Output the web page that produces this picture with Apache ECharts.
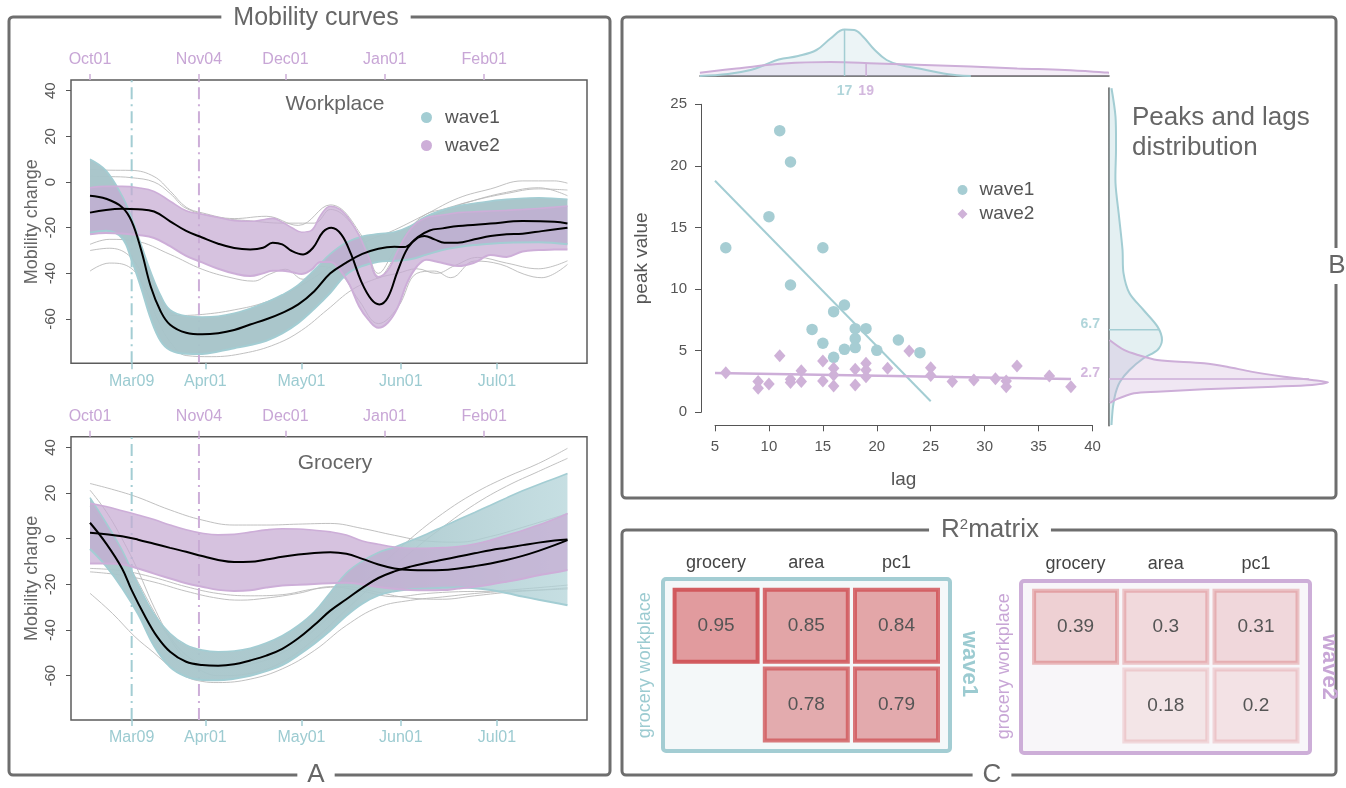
<!DOCTYPE html>
<html>
<head>
<meta charset="utf-8">
<script src="https://cdn.jsdelivr.net/npm/echarts@6/dist/echarts.min.js"></script>
<style>
  html, body { margin: 0; padding: 0; background: #fff; }
  #chart { width: 1346px; height: 788px; }
</style>
</head>
<body>
<div id="chart"></div>
<script>
// ---------------- data ----------------
// Days since the start of each wave (wave1 starts 2020-02-25, wave2 starts 2020-10-01)
const wave1TickDays = [13, 36, 66, 97, 127];
const wave1TickLabels = ['Mar09', 'Apr01', 'May01', 'Jun01', 'Jul01'];
const wave2TickDays = [0, 34, 61, 92, 123];
const wave2TickLabels = ['Oct01', 'Nov04', 'Dec01', 'Jan01', 'Feb01'];
const yTicks = [-60, -40, -20, 0, 20, 40];
const lockdownDayWave1 = 13;   // Mar09
const lockdownDayWave2 = 34;   // Nov04

// Workplace: envelopes of the wave curves and their means
const wpW1Days = [0,5,10,13,16,19,22,25,30,35,40,45,50,55,60,65,70,75,80,85,90,95,100,105,110,115,120,130,140,149];
const wpW1Upper = [10,5,-6,-15.8,-27.6,-39.5,-49.5,-56,-58.7,-59.1,-58.8,-57.5,-55.4,-52.7,-49.4,-45,-38.5,-31.5,-26.5,-23.8,-22.7,-21.9,-19.2,-15,-12.3,-10.4,-9.3,-7.6,-6.9,-7.6];
const wpW1Lower = [-22.2,-21.3,-24.5,-34.2,-46.5,-60,-69.5,-73.6,-75.2,-75.3,-74.2,-72.8,-71.4,-69.5,-66.3,-61.7,-55.5,-48.5,-40.5,-36.8,-34.9,-34.5,-33.8,-31.8,-29.8,-28.5,-27.6,-26.6,-26.4,-27.3];
const wpW1Mean = [[0,-6],[5,-7.3],[10,-11],[13,-17.2],[16,-30],[19,-46],[22,-56.5],[25,-62.5],[30,-66],[35,-66.7],[40,-66.2],[45,-64.8],[50,-62.4],[55,-60.1],[60,-57.3],[65,-53.6],[70,-47.8],[75,-40],[80,-35.3],[85,-31.5],[90,-29.2],[95,-28.3],[98,-28.5],[102,-24.4],[106,-21.2],[110,-20.3],[115,-19.3],[125,-18.2],[135,-17.1],[145,-17.4],[149,-18.2]];
const wpW2Days = [0,5,10,15,20,25,30,35,40,45,50,54,57,60,63,66,69,72,75,78,81,84,87,90,93,96,99,102,105,108,111,115,120,125,130,135,140,145,149];
const wpW2Upper = [-2.5,-1.9,-1.9,-2.5,-4.1,-8.4,-12.6,-14.1,-15.5,-16.9,-17.2,-16.5,-15.9,-17.6,-20,-22,-21.3,-14.5,-10.6,-12,-16.5,-23.5,-33,-41.5,-38.5,-30.2,-22.5,-17.8,-15.6,-14.8,-14.2,-13.4,-13,-12.7,-12.4,-12,-11.6,-11,-10.5];
const wpW2Lower = [-22.9,-22.3,-22.5,-23.2,-24.5,-28.1,-32.3,-35.2,-38,-40.1,-41.2,-40,-38.9,-38.9,-39.5,-40.3,-38.5,-35,-35,-38.5,-45,-54.5,-60.5,-63.8,-61.5,-55,-44,-37,-34,-34.8,-35.8,-36.8,-35.3,-32,-32.8,-30.4,-29.8,-29.6,-29.5];
const wpW2Mean = [[0,-13.4],[5,-12.2],[10,-11.7],[15,-11.9],[20,-12.9],[25,-17.2],[30,-21.4],[35,-24.3],[40,-27],[45,-28.9],[50,-29.5],[54,-28.8],[57,-26.6],[60,-27.3],[63,-30.2],[66.5,-31.7],[69.6,-28.8],[72.7,-21.9],[75.3,-20],[78.4,-22.9],[81.5,-31.7],[84.6,-43.4],[87.8,-51.4],[90.3,-53.6],[92.9,-50.7],[96,-39],[99.2,-28.8],[102.3,-24.4],[104.4,-23.6],[107.5,-25.1],[110.6,-26.6],[114.7,-26.6],[120,-25.1],[125,-23.6],[130,-22.9],[135,-22.6],[141,-21.5],[149,-20]];
// Workplace: individual regions outside the main envelopes
const wpGray1 = [[0,5.5],[6,5.2],[13,5.1],[20,2.4],[25,-3.9],[30,-11],[35,-13.5],[45,-16],[55,-15],[65,-19],[75,-10],[85,-24],[90,-40],[95,-30],[100,-20],[105,-14],[110,-12],[120,-8],[130,-5],[140,-3],[149,-3.5]];
const wpGray2 = [[0,2.6],[6,2.4],[13,1.9],[20,0],[25,-5],[30,-11.5],[40,-15.5],[50,-17],[60,-18],[70,-18],[75,-12],[85,-25],[90,-42],[95,-33],[100,-22],[110,-13],[120,-8],[130,-4.5],[140,-2.5],[149,-6]];
const wpGray3 = [[0,-27.3],[6,-25.1],[14,-25.8],[25,-31.7],[35,-38.2],[44,-41.9],[51,-43.4],[56,-40.4],[61,-38.2],[66.5,-42.6],[72,-37],[78,-40],[84,-52],[90,-62],[96,-55],[102,-40],[107.5,-39],[112.6,-41.9],[120,-34.6],[128,-36],[135.5,-40.4],[141,-41.9],[149,-36.1]];
const wpGray4 = [[0,-39],[6,-35.5],[12,-37],[17,-46],[21,-60],[25,-70],[30,-76],[38,-76.5],[48,-75],[58,-71],[66,-65],[74,-56],[82,-47],[90,-42],[96,-40],[102,-38],[108,-40],[114,-36.5],[121,-33],[130,-35.5],[140,-38],[149,-34.5]];
const wpGray5 = [[0,-30],[6,-29],[12,-32],[17,-42],[21,-53],[26,-58.5],[35,-58],[45,-56],[55,-52.5],[65,-46],[75,-37],[85,-27],[95,-21],[105,-14],[115,-7],[125,-3],[135,0.5],[145,0.5],[149,-0.5]];

// Grocery
const grDays = [0,5,10,15,20,25,30,35,40,45,50,55,60,65,70,75,80,85,90,95,100,105,110,115,120,125,130,135,140,145,149];
const grW1Upper = [18,7,-5,-20,-33,-41.5,-46.5,-48.8,-49.5,-49.2,-48,-45.7,-42.5,-38,-32,-23.5,-15,-9.8,-6,-3.7,-0.9,2,5.2,8.4,11.5,14.7,17.9,21,23.8,26.4,28.6];
const grW1Lower = [-4.5,-12,-21.5,-33,-47,-56.2,-60.4,-61.9,-62,-61.3,-60,-58,-55.4,-51,-46,-40.2,-33.7,-28.4,-24.8,-23,-22.1,-21.8,-21.5,-21.3,-21.7,-22.5,-23.8,-25.3,-26.7,-28,-29.1];
const grW1Mean = [[0,7],[5,-2],[10,-13],[13,-22.5],[17,-33.5],[21,-43],[25,-49.5],[30,-53.9],[35,-55.3],[40,-55.6],[45,-55],[50,-53.3],[55,-51.2],[60,-48.2],[65,-43.6],[70,-37.8],[75,-31.5],[80,-26.5],[85,-21.5],[90,-17.2],[95,-14.3],[100,-12.2],[105,-10.6],[110,-9.2],[115,-7.8],[120,-6.4],[125,-5],[130,-3.9],[135,-2.8],[140,-1.7],[145,-0.8],[149,-0.3]];
const grW2Upper = [15.5,14.1,12.3,10.4,8.4,6,3.9,2.4,1.7,1.9,2.9,3.9,4.4,4.3,3.7,3,1.6,-1,-2.4,-3.6,-4.2,-4.2,-3.9,-3.4,-2.3,-0.6,1.5,3.6,6,8.6,11.1];
const grW2Lower = [-10.8,-10.8,-11.2,-13,-15.3,-17.4,-19.5,-21,-22.4,-22.9,-22.6,-21.4,-20.5,-20.2,-19.8,-19.5,-19.3,-20,-21.1,-21.9,-22.4,-22.6,-22.5,-21.8,-21,-20,-18.8,-17.5,-16,-14.8,-13.7];
const grW2Mean = [[0,2.6],[5,2],[10,1.1],[15,-0.4],[20,-2.2],[25,-4],[30,-5.7],[35,-7.6],[40,-9.3],[45,-10.2],[50,-10.1],[55,-9.1],[60,-7.9],[65,-6.9],[70,-6.2],[75,-5.9],[80,-6.6],[85,-8.8],[90,-11.3],[95,-13],[100,-13.7],[105,-13.8],[110,-13.7],[115,-13],[120,-12],[125,-10.8],[130,-9.3],[135,-7.5],[140,-5.3],[145,-2.8],[149,-0.6]];
const grGray1 = [[0,24.2],[13,19.1],[25,12.6],[35,8.2],[45,6],[55,6],[65,6.4],[75,6.7],[85,4.5],[95,1.5],[105,-1],[115,-1.5],[125,1],[135,5],[149,11]];
const grGray2 = [[0,21.3],[5,12],[10,0],[15,-14],[20,-30],[25,-43],[30,-51],[35,-55],[40,-56.5],[50,-55],[60,-50],[70,-40],[80,-27],[90,-13],[100,0],[110,11],[120,20],[130,27],[140,33],[149,39.6]];
const grGray3 = [[0,14],[5,5],[10,-6],[15,-19],[20,-32],[25,-44],[30,-53],[35,-58],[40,-60],[50,-59],[60,-54],[70,-44],[80,-31],[90,-18],[100,-6],[110,5],[120,15],[130,23],[140,29.5],[149,35.2]];
const grGray4 = [[0,-14.5],[10,-16],[20,-19],[30,-23],[40,-26.1],[47,-26.9],[55,-26],[65,-23.9],[75,-21],[85,-23],[95,-25.4],[105,-24],[115,-23.2],[125,-23],[135,-22],[149,-20.3]];
const grGray5 = [[0,-23.9],[7,-32.7],[14,-42.9],[20,-50],[25,-56],[30,-60.5],[35,-62.5],[40,-63],[50,-61.5],[60,-57],[70,-49],[80,-38],[90,-30],[100,-27],[110,-25.5],[120,-24],[130,-23],[140,-22.5],[149,-22]];
const grGray6 = [[0,-13],[10,-14],[20,-17],[30,-21],[40,-24],[50,-25],[60,-24.5],[70,-22],[80,-21],[90,-23.5],[100,-26],[110,-26.5],[120,-25],[130,-23.5],[140,-22.5],[149,-21.5]];

// Peaks and lags
const lagsW1  = [6, 11, 12, 10, 15, 12, 17, 16, 14, 18, 19, 18, 15, 18, 17, 20, 22, 24, 16];
const peaksW1 = [13.36, 22.86, 20.32, 15.88, 13.36, 10.33, 8.71, 8.17, 6.73, 6.79, 6.79, 5.98, 5.6, 5.25, 5.11, 5.03, 5.87, 4.84, 4.46];
const lagsW2  = [6, 11, 9, 9, 10, 12, 12, 13, 13, 15, 15, 16, 16, 16, 18, 18, 19, 19, 19, 21, 23, 25, 25, 27, 29, 31, 32, 32, 33, 36, 38];
const peaksW2 = [3.22, 4.6, 2.49, 1.95, 2.3, 2.68, 2.41, 3.38, 2.49, 4.16, 2.54, 3.57, 3.03, 2.14, 3.49, 2.22, 3.98, 3.43, 2.89, 3.57, 4.98, 3.62, 2.99, 2.49, 2.62, 2.73, 2.54, 2.08, 3.76, 2.95, 2.08];
const fitLagW1 = [5, 25];
const fitPeakW1 = [18.8, 0.9];
const fitLagW2 = [5, 38];
const fitPeakW2 = [3.2, 2.7];

// Marginal densities
const lagDensX_W1 = [3.6, 6.2, 8.3, 9.6, 10.9, 12.7, 14.4, 15.7, 17, 17.9, 18.7, 19.8, 20.9, 22.2, 23.9, 25.7, 27.4, 28.7];
const lagDens_W1  = [0, 0.004, 0.012, 0.022, 0.033, 0.04, 0.052, 0.075, 0.093, 0.092, 0.079, 0.052, 0.032, 0.022, 0.015, 0.007, 0.0015, 0];
const lagDensX_W2 = [3.6, 7, 11.4, 15.7, 20, 24.4, 28.7, 33, 37.4, 41.5];
const lagDens_W2  = [0.0066, 0.015, 0.025, 0.028, 0.025, 0.022, 0.019, 0.015, 0.012, 0.0066];
const peakDensY_W1 = [26.3, 24, 21.3, 18.6, 15.9, 13.2, 11.3, 9.66, 8.3, 6.95, 5.87, 5.06, 4.38, 3.43, 2.48, 1.54, 0.45, -1.03];
const peakDens_W1  = [0.005, 0.013, 0.014, 0.013, 0.02, 0.027, 0.029, 0.041, 0.069, 0.097, 0.106, 0.097, 0.069, 0.041, 0.022, 0.013, 0.008, 0.005];
const peakDensY_W2 = [5.87, 5.06, 4.65, 4.25, 3.98, 3.7, 3.3, 2.89, 2.62, 2.43, 2.22, 2.08, 1.87, 1.67, 1.54, 1.0, 0.75];
const peakDens_W2  = [0.001, 0.03, 0.058, 0.096, 0.19, 0.236, 0.284, 0.35, 0.406, 0.438, 0.406, 0.332, 0.19, 0.096, 0.05, 0.012, 0.002];
const medianLag = [17, 19];
const medianLagDens = [0.093, 0.026];
const medianPeak = [6.7, 2.7];
const medianPeakDens = [0.101, 0.40];

// R^2 matrices
const r2Cols = ['grocery', 'area', 'pc1'];
const r2Rows = ['workplace', 'grocery'];
const r2Wave1 = [['grocery','workplace',0.95], ['area','workplace',0.85], ['pc1','workplace',0.84], ['area','grocery',0.78], ['pc1','grocery',0.79]];
const r2Wave2 = [['grocery','workplace',0.39], ['area','workplace',0.3], ['pc1','workplace',0.31], ['area','grocery',0.18], ['pc1','grocery',0.2]];

// ---------------- styling ----------------
const FONT = "'Liberation Sans', Arial, Helvetica, sans-serif";
const TEAL = '#a3cdd3';
const TEAL_TXT = '#9ccbd1';
const PURPLE = '#cdaed8';
const PURPLE_TXT = '#c8a6d6';
const GREY_TXT = '#666';
const AXIS = '#555';
const PURPLE_BAND = 'rgba(198,170,210,0.72)';

// elapsed days are placed on a hidden time axis (so that the envelope stacks work on y)
const DAY_MS = 864e5;
const elapsed = d => d * DAY_MS;
const X_MIN_DAY = -5.93, X_MAX_DAY = 155.1;
const Y_MIN = -79.4, Y_MAX = 44.7;

function dayAxis(gridIndex, position, days, labels, color, txtColor, margin) {
  return {
    type: 'value', gridIndex, position, min: X_MIN_DAY, max: X_MAX_DAY,
    axisLine: { show: false, onZero: false },
    splitLine: { show: false },
    axisTick: { show: true, customValues: days, length: 6, lineStyle: { color, width: 1.5 } },
    axisLabel: { customValues: days, formatter: v => labels[days.indexOf(v)] || '', color: txtColor, fontSize: 16, margin }
  };
}

function plotXAxes(gridIndex) {
  return [
    { type: 'time', gridIndex, show: false, min: elapsed(X_MIN_DAY), max: elapsed(X_MAX_DAY),
      axisLine: { show: false, onZero: false }, splitLine: { show: false } },
    dayAxis(gridIndex, 'bottom', wave1TickDays, wave1TickLabels, TEAL, TEAL_TXT, 10),
    dayAxis(gridIndex, 'top', wave2TickDays, wave2TickLabels, PURPLE, PURPLE_TXT, 12)
  ];
}

function mobilityYAxis(gridIndex) {
  return {
    type: 'value', gridIndex, min: Y_MIN, max: Y_MAX,
    axisLine: { show: false, onZero: false },
    splitLine: { show: false },
    axisTick: { show: true, customValues: yTicks, length: 5, lineStyle: { color: AXIS } },
    axisLabel: { customValues: yTicks, rotate: 90, margin: 13, fontSize: 15, color: AXIS },
    name: 'Mobility change', nameLocation: 'middle', nameGap: 30, nameRotate: 90, nameMoveOverlap: false,
    nameTextStyle: { fontSize: 18, color: GREY_TXT }
  };
}

function curveSeries(cfg) {
  const xi = cfg.xi, yi = cfg.yi;
  const out = [];
  cfg.grays.forEach((g, k) => out.push({
    type: 'line', name: cfg.key + 'g' + k, xAxisIndex: xi, yAxisIndex: yi, silent: true,
    data: g.map(p => [elapsed(p[0]), p[1]]), smooth: 0.4, symbol: 'none',
    lineStyle: { color: '#b9b9b9', width: 0.9 }, z: 1
  }));
  [[lockdownDayWave1, TEAL], [lockdownDayWave2, PURPLE]].forEach(([d, c], k) => out.push({
    type: 'line', name: cfg.key + 'v' + k, xAxisIndex: xi, yAxisIndex: yi, silent: true, symbol: 'none',
    data: [[elapsed(d), Y_MIN], [elapsed(d), Y_MAX]],
    lineStyle: { color: c, width: 2, type: [12, 5, 2, 5] }, z: 1
  }));
  const band = (name, days, upper, lower, edge, fill) => {
    const stack = cfg.key + name;
    out.push({
      type: 'line', name: stack + 'low', xAxisIndex: xi, yAxisIndex: yi, silent: true,
      stack, stackStrategy: 'all', smooth: 0.4, symbol: 'none',
      data: days.map((d, i) => [elapsed(d), lower[i]]),
      lineStyle: { color: edge, width: 2 }, z: 2
    });
    out.push({
      type: 'line', name, xAxisIndex: xi, yAxisIndex: yi, silent: true,
      stack, stackStrategy: 'all', smooth: 0.4, symbol: 'none',
      data: days.map((d, i) => [elapsed(d), upper[i] - lower[i]]),
      itemStyle: { color: edge },
      lineStyle: { color: edge, width: 1.6 },
      areaStyle: { color: fill, opacity: 1 }, z: 2
    });
  };
  band('wave1', cfg.w1Days, cfg.w1Upper, cfg.w1Lower, TEAL, cfg.tealFill);
  band('wave2', cfg.w2Days, cfg.w2Upper, cfg.w2Lower, PURPLE, cfg.purpleFill);
  [cfg.w1Mean, cfg.w2Mean].forEach((m, k) => out.push({
    type: 'line', name: cfg.key + 'm' + k, xAxisIndex: xi, yAxisIndex: yi, silent: true,
    data: m.map(p => [elapsed(p[0]), p[1]]), smooth: 0.4, symbol: 'none',
    lineStyle: { color: '#000', width: 2 }, z: 3
  }));
  return out;
}

// density along the vertical axis: filled shape against the x = 0 baseline
function verticalDensity(values, density, stroke, fill) {
  const pts = values.map((v, i) => [density[i], v]);
  return {
    type: 'custom', xAxisIndex: 8, yAxisIndex: 4, silent: true, data: pts,
    renderItem: (params, api) => {
      if (params.dataIndex !== 0) return null;
      const curve = pts.map(p => api.coord(p));
      const shape = [api.coord([0, pts[0][1]])].concat(curve, [api.coord([0, pts[pts.length - 1][1]])]);
      return {
        type: 'group', children: [
          { type: 'polygon', shape: { points: shape, smooth: 0.3 }, style: { fill, stroke: null } },
          { type: 'polyline', shape: { points: curve, smooth: 0.3 }, style: { fill: null, stroke, lineWidth: 2 } }
        ]
      };
    }
  };
}

function r2Cell(params, api) {
  const c = api.coord([api.value(0), api.value(1)]);
  const s = api.size([1, 1]);
  const v = api.value(2);
  const w = s[0] - 3.2, h = s[1] - 2.7, lw = 4;
  return {
    type: 'group', children: [
      { type: 'rect', shape: { x: c[0] - w / 2 + lw / 2, y: c[1] - h / 2 + lw / 2, width: w - lw, height: h - lw },
        style: { fill: 'rgba(210,90,94,' + (0.62 * v) + ')', stroke: 'rgba(208,84,88,' + v + ')', lineWidth: lw } },
      { type: 'text', x: c[0], y: c[1],
        style: { text: String(v), fill: '#555', fontSize: 19, fontFamily: FONT, align: 'center', verticalAlign: 'middle' } }
    ]
  };
}

function panelText(text, x, y, size, pad) {
  return {
    type: 'text', x, y, z: 50, silent: true,
    style: { text, fontSize: size, fontFamily: FONT, fill: GREY_TXT, align: 'center', verticalAlign: 'middle',
             backgroundColor: '#fff', padding: pad }
  };
}
function plainText(text, x, y, size, color, align, extra) {
  return Object.assign({
    type: 'text', x, y, z: 50, silent: true,
    style: { text, fontSize: size, fontFamily: FONT, fill: color, align, verticalAlign: 'middle' }
  }, extra || {});
}

// ---------------- chart ----------------
const chart = echarts.init(document.getElementById('chart'), null, { renderer: 'canvas', width: 1346, height: 788 });

// grocery wave1 curves fan out after the trough, so the envelope fades towards the right
const groceryTealFill = new echarts.graphic.LinearGradient(0, 0, 1, 0, [
  { offset: 0, color: 'rgba(168,198,203,0.95)' },
  { offset: 0.55, color: 'rgba(168,198,203,0.95)' },
  { offset: 1, color: 'rgba(176,210,215,0.72)' }
]);

const series = [].concat(
  curveSeries({ key: 'wp', xi: 0, yi: 0, grays: [wpGray1, wpGray2, wpGray3, wpGray4, wpGray5],
    w1Days: wpW1Days, w1Upper: wpW1Upper, w1Lower: wpW1Lower, w1Mean: wpW1Mean,
    w2Days: wpW2Days, w2Upper: wpW2Upper, w2Lower: wpW2Lower, w2Mean: wpW2Mean,
    tealFill: 'rgba(167,196,201,0.96)', purpleFill: PURPLE_BAND }),
  curveSeries({ key: 'gr', xi: 3, yi: 1, grays: [grGray1, grGray2, grGray3, grGray4, grGray5, grGray6],
    w1Days: grDays, w1Upper: grW1Upper, w1Lower: grW1Lower, w1Mean: grW1Mean,
    w2Days: grDays, w2Upper: grW2Upper, w2Lower: grW2Lower, w2Mean: grW2Mean,
    tealFill: groceryTealFill, purpleFill: PURPLE_BAND }),
  [
    // scatter panel
    { type: 'line', name: 'fit1', xAxisIndex: 6, yAxisIndex: 2, silent: true, symbol: 'none',
      data: fitLagW1.map((l, i) => [l, fitPeakW1[i]]), lineStyle: { color: TEAL, width: 2 }, z: 3 },
    { type: 'line', name: 'fit2', xAxisIndex: 6, yAxisIndex: 2, silent: true, symbol: 'none',
      data: fitLagW2.map((l, i) => [l, fitPeakW2[i]]), lineStyle: { color: PURPLE, width: 2.5 }, z: 3 },
    { type: 'scatter', name: 'wave1', xAxisIndex: 6, yAxisIndex: 2, silent: true, symbol: 'circle', symbolSize: 11.5,
      data: lagsW1.map((l, i) => [l, peaksW1[i]]), itemStyle: { color: '#a6cdd3', opacity: 1 }, z: 4 },
    { type: 'scatter', name: 'wave2', xAxisIndex: 6, yAxisIndex: 2, silent: true, symbol: 'diamond', symbolSize: [11.5, 13],
      data: lagsW2.map((l, i) => [l, peaksW2[i]]), itemStyle: { color: '#cfb2d8', opacity: 1 }, z: 4 },

    // lag density (top margin)
    { type: 'line', name: 'dl1', xAxisIndex: 7, yAxisIndex: 3, silent: true, symbol: 'none', smooth: 0.4,
      data: lagDensX_W1.map((x, i) => [x, lagDens_W1[i]]),
      lineStyle: { color: TEAL, width: 2 }, areaStyle: { color: 'rgba(166,205,211,0.3)' }, z: 2 },
    { type: 'line', name: 'dl2', xAxisIndex: 7, yAxisIndex: 3, silent: true, symbol: 'none', smooth: 0.4,
      data: lagDensX_W2.map((x, i) => [x, lagDens_W2[i]]),
      lineStyle: { color: PURPLE, width: 2 }, areaStyle: { color: 'rgba(205,174,216,0.3)' }, z: 2 },
    { type: 'line', name: 'ml1', xAxisIndex: 7, yAxisIndex: 3, silent: true, symbol: 'none',
      data: [[medianLag[0], 0], [medianLag[0], medianLagDens[0]]], lineStyle: { color: TEAL, width: 1.5 }, z: 3 },
    { type: 'line', name: 'ml2', xAxisIndex: 7, yAxisIndex: 3, silent: true, symbol: 'none',
      data: [[medianLag[1], 0], [medianLag[1], medianLagDens[1]]], lineStyle: { color: PURPLE, width: 1.5 }, z: 3 },
    { type: 'scatter', name: 'mlab1', xAxisIndex: 7, yAxisIndex: 3, silent: true, symbolSize: 0.01,
      itemStyle: { color: 'rgba(0,0,0,0)' }, data: [[medianLag[0], 0]],
      label: { show: true, position: 'bottom', distance: 8, formatter: p => String(p.value[0]), color: TEAL_TXT, fontSize: 14, fontWeight: 'bold' } },
    { type: 'scatter', name: 'mlab2', xAxisIndex: 7, yAxisIndex: 3, silent: true, symbolSize: 0.01,
      itemStyle: { color: 'rgba(0,0,0,0)' }, data: [[medianLag[1], 0]],
      label: { show: true, position: 'bottom', distance: 8, formatter: p => String(p.value[0]), color: PURPLE_TXT, fontSize: 14, fontWeight: 'bold' } },

    // peak density (right margin)
    verticalDensity(peakDensY_W1, peakDens_W1, TEAL, 'rgba(166,205,211,0.3)'),
    verticalDensity(peakDensY_W2, peakDens_W2, PURPLE, 'rgba(205,174,216,0.3)'),
    { type: 'line', name: 'mp1', xAxisIndex: 8, yAxisIndex: 4, silent: true, symbol: 'none',
      data: [[0, medianPeak[0]], [medianPeakDens[0], medianPeak[0]]], lineStyle: { color: TEAL, width: 1.5 }, z: 3 },
    { type: 'line', name: 'mp2', xAxisIndex: 8, yAxisIndex: 4, silent: true, symbol: 'none',
      data: [[0, medianPeak[1]], [medianPeakDens[1], medianPeak[1]]], lineStyle: { color: PURPLE, width: 1.5 }, z: 3 },
    { type: 'scatter', name: 'mplab1', xAxisIndex: 8, yAxisIndex: 4, silent: true, symbolSize: 0.01,
      itemStyle: { color: 'rgba(0,0,0,0)' }, data: [[0, medianPeak[0]]],
      label: { show: true, position: 'left', distance: 9, offset: [0, -6], formatter: p => String(p.value[1]), color: TEAL_TXT, fontSize: 14, fontWeight: 'bold' } },
    { type: 'scatter', name: 'mplab2', xAxisIndex: 8, yAxisIndex: 4, silent: true, symbolSize: 0.01,
      itemStyle: { color: 'rgba(0,0,0,0)' }, data: [[0, medianPeak[1]]],
      label: { show: true, position: 'left', distance: 9, offset: [0, -6], formatter: p => String(p.value[1]), color: PURPLE_TXT, fontSize: 14, fontWeight: 'bold' } },

    // R^2 matrices
    { type: 'custom', name: 'r2w1', xAxisIndex: 9, yAxisIndex: 5, silent: true, data: r2Wave1, renderItem: r2Cell, encode: { x: 0, y: 1 }, z: 3 },
    { type: 'custom', name: 'r2w2', xAxisIndex: 10, yAxisIndex: 6, silent: true, data: r2Wave2, renderItem: r2Cell, encode: { x: 0, y: 1 }, z: 3 }
  ]
);

const hiddenValueAxis = (gridIndex, min, max, extra) => Object.assign({
  type: 'value', gridIndex, min, max, show: true,
  axisLine: { show: false, onZero: false }, axisTick: { show: false }, axisLabel: { show: false }, splitLine: { show: false }
}, extra || {});

const option = {
  animation: false,
  backgroundColor: '#fff',
  textStyle: { fontFamily: FONT },
  grid: [
    { left: 71, top: 80, width: 516, height: 283.3, show: true, borderColor: '#5c5c5c', borderWidth: 1.5, backgroundColor: 'rgba(0,0,0,0)', outerBoundsMode: 'none' },
    { left: 71, top: 436.7, width: 516, height: 283.3, show: true, borderColor: '#5c5c5c', borderWidth: 1.5, backgroundColor: 'rgba(0,0,0,0)', outerBoundsMode: 'none' },
    { left: 715, top: 104.3, width: 377.5, height: 308, outerBoundsMode: 'none' },
    { left: 700, top: 26, width: 409, height: 50, outerBoundsMode: 'none' },
    { left: 1109, top: 88, width: 220, height: 337.7, outerBoundsMode: 'none' },
    { left: 671, top: 586.5, width: 270.6, height: 157.4, outerBoundsMode: 'none' },
    { left: 1030.5, top: 587.5, width: 270.6, height: 157.4, outerBoundsMode: 'none' }
  ],
  xAxis: [].concat(
    plotXAxes(0),
    plotXAxes(1),
    [
      { type: 'value', gridIndex: 2, min: 5, max: 40, interval: 5, offset: 13,
        axisLine: { show: true, onZero: false, lineStyle: { color: AXIS, width: 1 } },
        axisTick: { show: true, length: 6, lineStyle: { color: AXIS } },
        axisLabel: { fontSize: 15, color: AXIS, margin: 14 }, splitLine: { show: false },
        name: 'lag', nameLocation: 'middle', nameGap: 45, nameMoveOverlap: false, nameTextStyle: { fontSize: 19, color: AXIS } },
      hiddenValueAxis(3, 3.61, 41.5, { axisLine: { show: true, onZero: false, lineStyle: { color: AXIS, width: 1.5 } } }),
      hiddenValueAxis(4, 0, 0.44),
      { type: 'category', gridIndex: 5, data: r2Cols, position: 'top',
        axisLine: { show: false }, axisTick: { show: false }, splitLine: { show: false },
        axisLabel: { fontSize: 18, color: '#444', margin: 14, interval: 0 } },
      { type: 'category', gridIndex: 6, data: r2Cols, position: 'top',
        axisLine: { show: false }, axisTick: { show: false }, splitLine: { show: false },
        axisLabel: { fontSize: 18, color: '#444', margin: 14, interval: 0 } }
    ]
  ),
  yAxis: [
    mobilityYAxis(0),
    mobilityYAxis(1),
    { type: 'value', gridIndex: 2, min: 0, max: 25, interval: 5, offset: 14,
      axisLine: { show: true, onZero: false, lineStyle: { color: AXIS, width: 1 } },
      axisTick: { show: true, length: 6, lineStyle: { color: AXIS } },
      axisLabel: { fontSize: 15, color: AXIS, margin: 14 }, splitLine: { show: false },
      name: 'peak value', nameLocation: 'middle', nameGap: 50, nameRotate: 90, nameMoveOverlap: false,
      nameTextStyle: { fontSize: 19, color: AXIS } },
    hiddenValueAxis(3, 0, 0.1),
    hiddenValueAxis(4, -1.09, 26.32, { axisLine: { show: true, onZero: false, lineStyle: { color: AXIS, width: 1.5 } } }),
    { type: 'category', gridIndex: 5, data: r2Rows, inverse: true,
      axisLine: { show: false }, axisTick: { show: false }, axisLabel: { show: false }, splitLine: { show: false },
      name: 'grocery workplace', nameLocation: 'middle', nameGap: 17, nameRotate: 90, nameMoveOverlap: false,
      nameTextStyle: { fontSize: 18, color: TEAL_TXT } },
    { type: 'category', gridIndex: 6, data: r2Rows, inverse: true,
      axisLine: { show: false }, axisTick: { show: false }, axisLabel: { show: false }, splitLine: { show: false },
      name: 'grocery workplace', nameLocation: 'middle', nameGap: 17, nameRotate: 90, nameMoveOverlap: false,
      nameTextStyle: { fontSize: 18, color: PURPLE_TXT } }
  ],
  legend: [
    { left: 416, top: 103, orient: 'vertical', selectedMode: false, itemWidth: 11, itemHeight: 11, itemGap: 9,
      textStyle: { fontSize: 19, color: '#555', padding: [0, 0, 0, 8] },
      data: [ { name: 'wave1', icon: 'circle', itemStyle: { color: TEAL }, lineStyle: { opacity: 0 } },
              { name: 'wave2', icon: 'circle', itemStyle: { color: PURPLE }, lineStyle: { opacity: 0 } } ] },
    { left: 952.5, top: 175.5, orient: 'vertical', selectedMode: false, itemWidth: 10, itemHeight: 10, itemGap: 5,
      textStyle: { fontSize: 19, color: '#555', padding: [0, 0, 0, 7] },
      data: [ { name: 'wave1', icon: 'circle', itemStyle: { color: '#a6cdd3' }, lineStyle: { opacity: 0 } },
              { name: 'wave2', icon: 'diamond', itemStyle: { color: '#cfb2d8' }, lineStyle: { opacity: 0 } } ] }
  ],
  series,
  graphic: [
    // panel frames
    { type: 'rect', z: 0, silent: true, shape: { x: 9, y: 17, width: 601, height: 758, r: 4 }, style: { fill: 'none', stroke: '#6e6e6e', lineWidth: 3 } },
    { type: 'rect', z: 0, silent: true, shape: { x: 622, y: 17, width: 714, height: 481, r: 4 }, style: { fill: 'none', stroke: '#6e6e6e', lineWidth: 3 } },
    { type: 'rect', z: 0, silent: true, shape: { x: 622, y: 530, width: 714, height: 245, r: 4 }, style: { fill: 'none', stroke: '#6e6e6e', lineWidth: 3 } },
    // matrix frames
    { type: 'rect', z: 0, silent: true, shape: { x: 663, y: 579, width: 287, height: 172, r: 3 }, style: { fill: '#f4f8f9', stroke: TEAL, lineWidth: 4 } },
    { type: 'rect', z: 0, silent: true, shape: { x: 1021, y: 581, width: 289, height: 172, r: 3 }, style: { fill: '#f8f6f9', stroke: PURPLE, lineWidth: 4 } },
    // panel titles and letters
    panelText('Mobility curves', 316, 18, 25, [0, 12]),
    panelText('A', 316, 775, 26, [0, 10]),
    panelText('B', 1337, 266, 26, [5, 2]),
    panelText('C', 992, 775, 26, [0, 10]),
    { type: 'text', x: 990, y: 530, z: 50, silent: true,
      style: { text: 'R{s|2}matrix', fontSize: 26, fontFamily: FONT, fill: GREY_TXT, align: 'center', verticalAlign: 'middle',
               backgroundColor: '#fff', padding: [0, 12],
               rich: { s: { fontSize: 15, fill: GREY_TXT, verticalAlign: 'top' } } } },
    // plot titles
    plainText('Workplace', 335, 104, 21, GREY_TXT, 'center'),
    plainText('Grocery', 335, 463, 21, GREY_TXT, 'center'),
    plainText('Peaks and lags', 1132, 118, 26, GREY_TXT, 'left'),
    plainText('distribution', 1132, 148, 26, GREY_TXT, 'left'),
    // matrix side labels
    plainText('wave1', 969, 664, 22, TEAL_TXT, 'center', { rotation: -Math.PI / 2 }),
    plainText('wave2', 1329, 667, 22, PURPLE_TXT, 'center', { rotation: -Math.PI / 2 })
  ]
};
option.graphic[option.graphic.length - 1].style.fontWeight = 'bold';
option.graphic[option.graphic.length - 2].style.fontWeight = 'bold';

chart.setOption(option);
</script>
</body>
</html>
